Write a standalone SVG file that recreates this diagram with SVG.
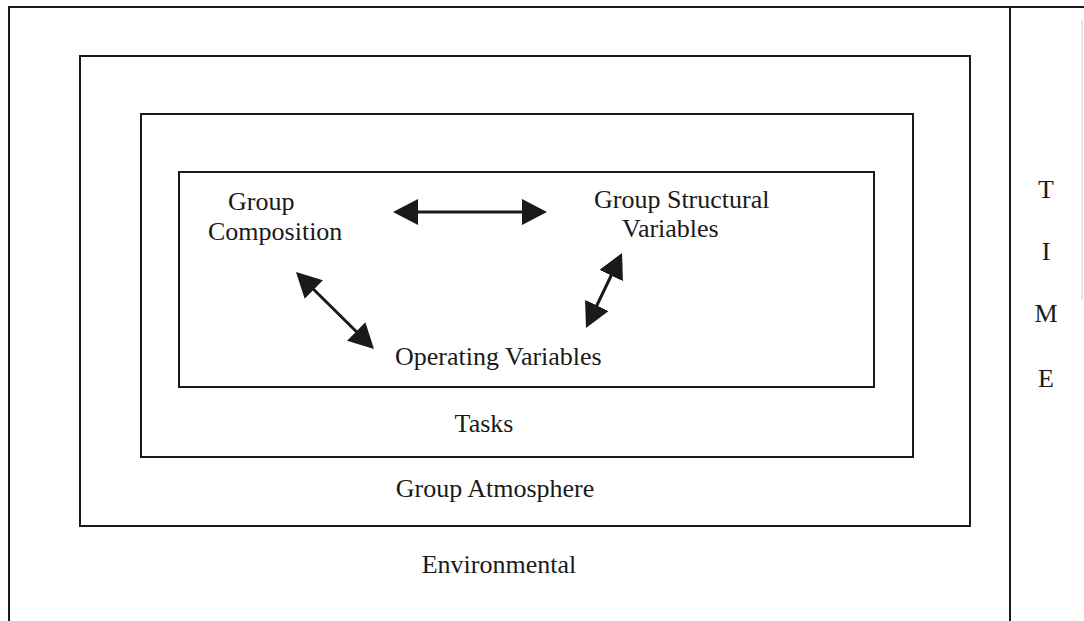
<svg xmlns="http://www.w3.org/2000/svg" width="1084" height="621" viewBox="0 0 1084 621">
<style>
.box{fill:none;stroke:#1a1a1a;stroke-width:2}
.t{font-family:"Liberation Serif","Times New Roman",serif;font-size:26px;fill:#1a1a1a}
.c{text-anchor:middle}
.arr{stroke:#1a1a1a;stroke-width:3;fill:none;marker-start:url(#ah);marker-end:url(#ah)}
</style>
<defs>
<marker id="ah" markerUnits="userSpaceOnUse" markerWidth="26" markerHeight="26" refX="15" refY="13" orient="auto-start-reverse" viewBox="0 0 26 26">
<path d="M0,0 L25,13 L0,26 z" fill="#1a1a1a"/>
</marker>
</defs>
<rect width="1084" height="621" fill="#fff"/>
<g id="environmental">
<path class="box" d="M9,621 L9,7 L1084,7"/>
<text class="t c" x="499" y="573">Environmental</text>
</g>
<g id="time">
<line class="box" x1="1010" y1="7" x2="1010" y2="621"/>
<line x1="1082" y1="20" x2="1082" y2="300" stroke="#ccc" stroke-width="1"/>
<text class="t c" x="1046" y="198">T</text>
<text class="t c" x="1046" y="260">I</text>
<text class="t c" x="1046" y="322">M</text>
<text class="t c" x="1046" y="387">E</text>
</g>
<g id="atmosphere">
<rect class="box" x="80" y="56" width="890" height="470"/>
<text class="t c" x="495" y="497">Group Atmosphere</text>
</g>
<g id="tasks">
<rect class="box" x="141" y="114" width="772" height="343"/>
<text class="t c" x="484" y="432">Tasks</text>
</g>
<g id="inner">
<rect class="box" x="179" y="172" width="695" height="215"/>
</g>
<g id="composition">
<text class="t" x="228" y="210">Group</text>
<text class="t" x="208" y="240">Composition</text>
</g>
<g id="structural">
<text class="t" x="594" y="208">Group Structural</text>
<text class="t" x="622" y="237">Variables</text>
</g>
<g id="operating">
<text class="t" x="395" y="365">Operating Variables</text>
</g>
<g id="connectors">
<line class="arr" x1="403" y1="212" x2="537" y2="212"/>
<line class="arr" x1="303.1" y1="279" x2="366.9" y2="342"/>
<line class="arr" x1="617.7" y1="262" x2="590.3" y2="319"/>
</g>
</svg>
